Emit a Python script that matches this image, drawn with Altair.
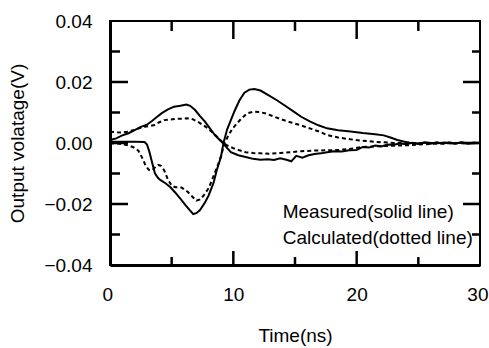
import altair as alt
import pandas as pd

# ---- data ----
meas_a_t = [0.0, 0.5, 1.0, 1.5, 2.0, 2.5, 3.0, 3.4, 3.8, 4.2, 4.7, 5.2, 5.7, 6.2, 6.5, 6.9, 7.3, 7.7, 8.1, 8.5,
            9.0, 9.4, 9.8, 10.4, 11.0, 11.6, 12.2, 12.8, 13.3, 13.8, 14.3, 14.7, 15.1, 15.6, 16.1, 16.6, 17.1,
            17.6, 18.2, 18.8, 19.4, 20.0, 20.5, 21.0, 21.5, 22.0, 22.5, 23.0, 23.5, 24.0, 24.5, 25.0, 25.5,
            26.0, 26.5, 27.0, 27.5, 28.0, 28.5, 29.0, 29.5, 30.0]
meas_a_v = [0.0010, 0.0015, 0.0025, 0.0032, 0.0042, 0.0053, 0.0060, 0.0072, 0.0085, 0.0098, 0.0110, 0.0119,
            0.0122, 0.0126, 0.0122, 0.0108, 0.0088, 0.0070, 0.0048, 0.0026, 0.0006, -0.0012, -0.0030, -0.0040,
            -0.0046, -0.0052, -0.0055, -0.0053, -0.0056, -0.0050, -0.0055, -0.0060, -0.0042, -0.0048, -0.0040,
            -0.0036, -0.0034, -0.0030, -0.0027, -0.0028, -0.0024, -0.0023, -0.0013, -0.0015, -0.0008, -0.0011,
            -0.0005, -0.0006, -0.0002, -0.0004, 0.0001, -0.0003, 0.0002, -0.0002, 0.0002, -0.0002, 0.0002,
            -0.0002, 0.0002, -0.0002, 0.0002, 0.0000]

meas_b_t = [0.0, 1.0, 2.0, 2.8, 3.0, 3.2, 3.45, 3.65, 3.9, 4.1, 4.5, 4.9, 5.3, 5.7, 6.1, 6.5, 6.75, 7.0, 7.3,
            7.7, 8.0, 8.4, 8.65, 9.0, 9.2, 9.5, 9.8, 10.1, 10.5, 10.9, 11.3, 11.7, 12.2, 12.8, 13.5, 14.2,
            14.9, 15.5, 16.2, 16.9, 17.6, 18.5, 19.5, 20.5, 21.5, 22.2, 22.8, 23.3, 23.8, 24.3, 25.0, 25.7,
            26.4, 27.1, 27.8, 28.5, 29.2, 30.0]
meas_b_v = [0.0004, 0.0004, 0.0004, 0.0003, -0.0005, -0.0030, -0.0070, -0.0100, -0.0115, -0.0122, -0.0132,
            -0.0145, -0.0163, -0.0182, -0.0203, -0.0222, -0.0233, -0.0230, -0.0220, -0.0195, -0.0172, -0.0130,
            -0.0090, -0.0045, 0.0000, 0.0045, 0.0075, 0.0105, 0.0140, 0.0165, 0.0175, 0.0177, 0.0172, 0.0158,
            0.0141, 0.0122, 0.0103, 0.0086, 0.0071, 0.0058, 0.0048, 0.0042, 0.0038, 0.0033, 0.0029, 0.0025,
            0.0017, 0.0010, 0.0005, 0.0001, -0.0002, 0.0002, -0.0002, 0.0002, -0.0002, 0.0002, -0.0002, 0.0000]

calc_c_t = [0.0, 0.5, 0.9, 1.4, 2.0, 2.5, 2.9, 3.3, 3.6, 4.0, 4.4, 4.9, 5.4, 5.9, 6.3, 6.7, 7.1, 7.5, 7.9, 8.3,
            8.7, 9.2, 9.6, 10.0, 10.5, 11.0, 11.6, 12.2, 13.0, 13.8, 14.6, 15.5, 16.5, 17.5, 18.5, 19.5, 20.3,
            21.5, 23.0, 24.3, 25.5, 26.5, 27.5, 30.0]
calc_c_v = [0.0037, 0.0035, 0.0034, 0.0037, 0.0043, 0.0050, 0.0054, 0.0056, 0.0059, 0.0068, 0.0075, 0.0077,
            0.0079, 0.0080, 0.0081, 0.0078, 0.0070, 0.0060, 0.0049, 0.0035, 0.0020, 0.0000, -0.0010, -0.0017,
            -0.0024, -0.0030, -0.0033, -0.0034, -0.0035, -0.0033, -0.0030, -0.0027, -0.0025, -0.0024, -0.0023,
            -0.0019, -0.0014, -0.0011, -0.0009, -0.0007, -0.0004, -0.0002, -0.0001, 0.0000]

calc_d_t = [0.0, 0.6, 1.0, 1.5, 1.9, 2.3, 2.6, 2.9, 3.15, 3.4, 3.65, 3.9, 4.15, 4.4, 4.7, 5.0, 5.3, 5.8, 6.3,
            6.7, 7.0, 7.3, 7.6, 8.0, 8.4, 8.9, 9.3, 9.6, 9.9, 10.2, 10.6, 11.1, 11.7, 12.2, 12.7, 13.4, 14.0,
            14.7, 15.4, 16.2, 17.0, 17.6, 18.5, 19.5, 20.3, 21.5, 23.0, 30.0]
calc_d_v = [-0.0001, -0.0002, -0.0004, -0.0008, -0.0014, -0.0025, -0.0048, -0.0075, -0.0088, -0.0090, -0.0080,
            -0.0072, -0.0075, -0.0090, -0.0120, -0.0140, -0.0145, -0.0146, -0.0160, -0.0177, -0.0189, -0.0185,
            -0.0172, -0.0148, -0.0108, -0.0056, 0.0000, 0.0025, 0.0045, 0.0060, 0.0078, 0.0097, 0.0103, 0.0101,
            0.0096, 0.0085, 0.0076, 0.0067, 0.0059, 0.0048, 0.0037, 0.0026, 0.0018, 0.0012, 0.0008, 0.0004,
            0.0000, 0.0000]

x_ticks = [0, 10, 20, 30]
y_ticks = [-0.04, -0.02, 0.00, 0.02, 0.04]
x_major_inner = [10, 20]
x_minor = [5, 15, 25]
y_major_inner = [-0.02, 0.0, 0.02]
y_minor = [-0.03, -0.01, 0.01, 0.03]

notes = ["Measured(solid line)", "Calculated(dotted line)"]
note_t = [14.0, 14.0]
note_v = [-0.0226, -0.0311]

FONT = "Liberation Sans"
W, H = 370, 244
TICK_COLOR = "black"

xs = alt.Scale(domain=[0, 30], nice=False, zero=False)
ys = alt.Scale(domain=[-0.04, 0.04], nice=False, zero=False)


def curve(t, v, name):
    return pd.DataFrame({"t": t, "v": v, "curve": name})


solid = pd.concat([curve(meas_a_t, meas_a_v, "A"), curve(meas_b_t, meas_b_v, "B")])
dotted = pd.concat([curve(calc_c_t, calc_c_v, "C"), curve(calc_d_t, calc_d_v, "D")])

x_enc = alt.X("t:Q", scale=xs, axis=alt.Axis(
    values=x_ticks, format="d", title="Time(ns)", ticks=False, tickSize=0, grid=False,
    labelFlush=True, labelFlushOffset=8, labelFontSize=19, labelFont=FONT, labelColor="black",
    labelPadding=20, domain=True, domainColor="black", domainWidth=3,
    titleFont=FONT, titleFontSize=19, titleFontWeight="normal", titleColor="black", titlePadding=22))
y_enc = alt.Y("v:Q", scale=ys, axis=alt.Axis(
    values=y_ticks, format=".2f", title="Output volatage(V)", ticks=False, tickSize=0, grid=False,
    labelFontSize=19, labelFont=FONT, labelColor="black", labelPadding=18,
    domain=True, domainColor="black", domainWidth=3,
    titleFont=FONT, titleFontSize=19, titleFontWeight="normal", titleColor="black", titlePadding=16))

solid_layer = alt.Chart(solid).mark_line(color="black", strokeWidth=2).encode(
    x=x_enc, y=y_enc, detail="curve:N", order="t:Q")
dotted_layer = alt.Chart(dotted).mark_line(color="black", strokeWidth=2, strokeDash=[4, 3]).encode(
    x=alt.X("t:Q", scale=xs), y=alt.Y("v:Q", scale=ys), detail="curve:N", order="t:Q")

ym = pd.DataFrame({"v": y_major_inner})
yn = pd.DataFrame({"v": y_minor})
xm = pd.DataFrame({"t": x_major_inner})
xn = pd.DataFrame({"t": x_minor})


def yrule(d, x0, x1):
    return alt.Chart(d).mark_rule(color=TICK_COLOR, strokeWidth=2.5).encode(
        y=alt.Y("v:Q", scale=ys), x=alt.value(x0), x2=alt.value(x1))


def xrule(d, y0, y1):
    return alt.Chart(d).mark_rule(color=TICK_COLOR, strokeWidth=2.5).encode(
        x=alt.X("t:Q", scale=xs), y=alt.value(y0), y2=alt.value(y1))


# inward tick marks on all four sides
ticks = [
    yrule(ym, 1, 18), yrule(yn, 1, 10),
    yrule(ym, W - 17, W), yrule(yn, W - 8, W),
    xrule(xm, H - 14, H), xrule(xn, H - 8, H),
    xrule(xm, 1, 18), xrule(xn, 1, 10),
]

note_df = pd.DataFrame({"t": note_t, "v": note_v, "label": notes})
note_layer = alt.Chart(note_df).mark_text(
    align="left", baseline="middle", font=FONT, fontSize=19, color="black").encode(
    x=alt.X("t:Q", scale=xs), y=alt.Y("v:Q", scale=ys), text="label:N")

chart = alt.layer(solid_layer, dotted_layer, note_layer, *ticks).properties(
    width=W, height=H,
    autosize=alt.AutoSizeParams(type="none"),
    padding={"left": 110, "top": 21, "right": 9, "bottom": 83},
    background="white",
).configure_view(stroke="black", strokeWidth=2)

chart.save("out.html", embed_options={"renderer": "svg", "actions": False})
